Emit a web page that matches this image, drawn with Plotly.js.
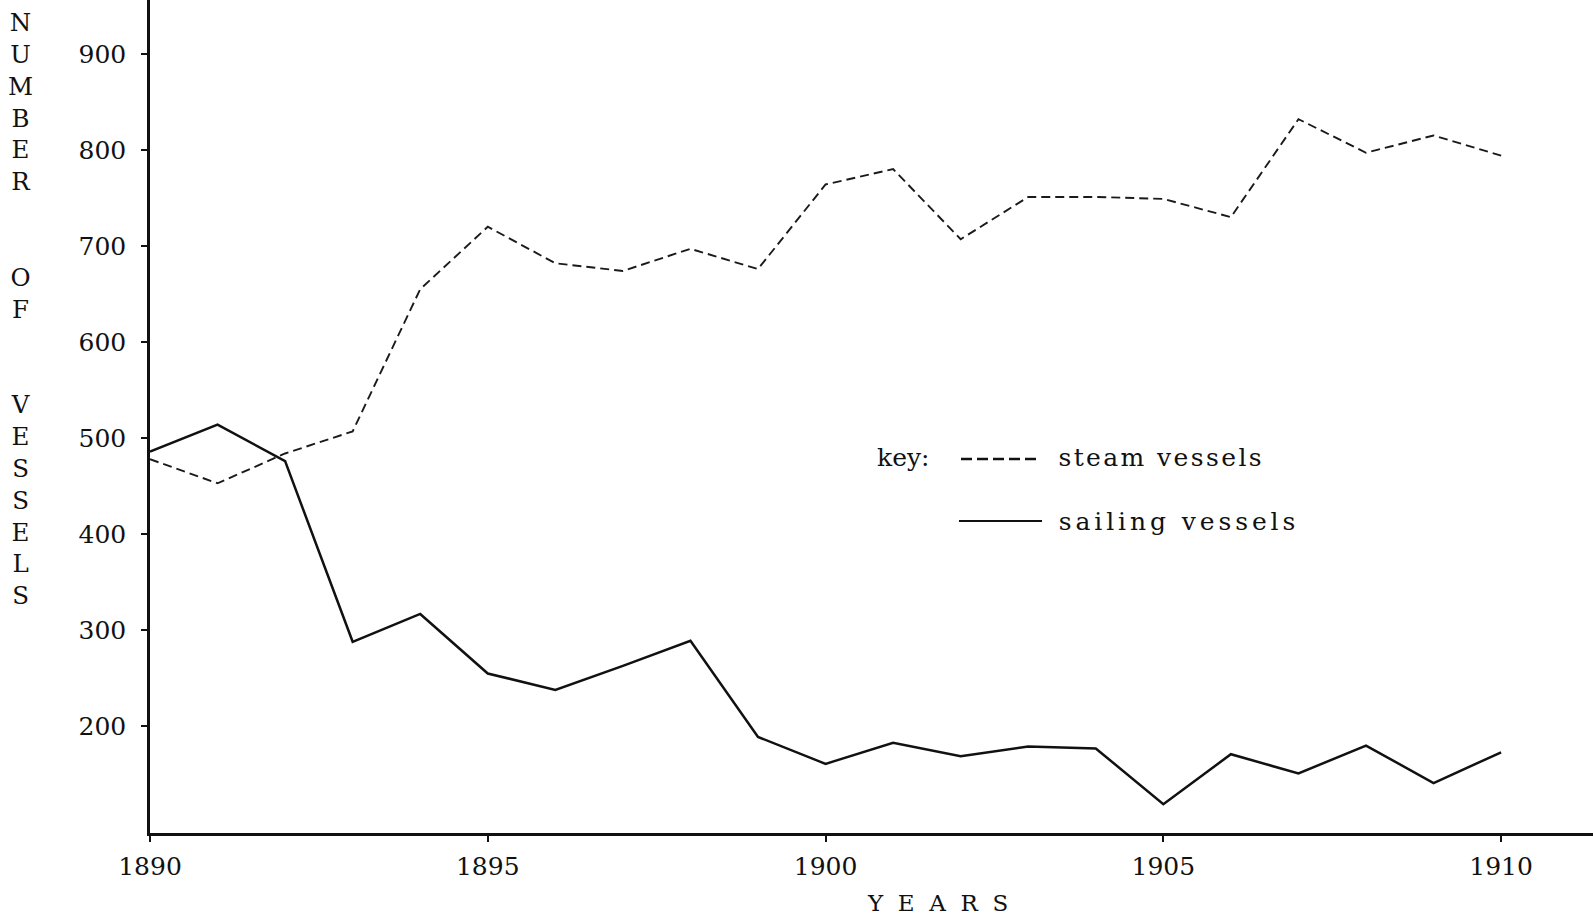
<!DOCTYPE html>
<html>
<head>
<meta charset="utf-8">
<script src="https://cdn.plot.ly/plotly-3.0.1.min.js"></script>
<style>
  html, body { margin: 0; padding: 0; background: #ffffff; }
  #chart { width: 1593px; height: 916px; }
  /* typewriter-like spacing for the key labels */
  .annotation[data-index="3"] .annotation-text { letter-spacing: 2.4px; }
  .annotation[data-index="4"] .annotation-text { letter-spacing: 3.9px; }
</style>
</head>
<body>
<div id="chart"></div>
<script>
// ---- data ----
const years = [1890, 1891, 1892, 1893, 1894, 1895, 1896, 1897, 1898, 1899, 1900,
               1901, 1902, 1903, 1904, 1905, 1906, 1907, 1908, 1909, 1910];
const steamVessels = [478, 453, 484, 507, 655, 720, 682, 674, 697, 676, 764,
                      780, 707, 751, 751, 749, 730, 832, 797, 815, 794];
const sailingVessels = [486, 514, 476, 288, 317, 255, 238, 263, 289, 189, 161,
                        183, 169, 179, 177, 119, 171, 151, 180, 141, 173];
const xTickVals = [1890, 1895, 1900, 1905, 1910];
const yTickVals = [200, 300, 400, 500, 600, 700, 800, 900];
const yTitleLetters = ["N","U","M","B","E","R"," "," ","O","F"," "," ","V","E","S","S","E","L","S"];
const xTitleLetters = ["Y","E","A","R","S"];
const seriesNames = ["steam vessels", "sailing vessels"];
const keyLabel = "key:";

const FONT = "DejaVu Serif, Liberation Serif, serif";

const traces = [
  {
    x: years, y: steamVessels, name: seriesNames[0],
    type: "scatter", mode: "lines",
    line: { color: "#1a1a1a", width: 1.9, dash: "9px,5px" },
    showlegend: false, hoverinfo: "x+y+name"
  },
  {
    x: years, y: sailingVessels, name: seriesNames[1],
    type: "scatter", mode: "lines",
    line: { color: "#111111", width: 2.5 },
    showlegend: false, hoverinfo: "x+y+name"
  }
];

// plot area: left edge x=150px, bottom at y=833px
const L = 150, B = 83, W = 1593 - L, H = 916 - B;
const px = v => (v - L) / W;          // pixel x -> paper
const py = v => (916 - B - v) / H;    // pixel y -> paper

const layout = {
  width: 1593, height: 916,
  margin: { l: L, r: 0, t: 0, b: B, pad: 0 },
  paper_bgcolor: "#ffffff", plot_bgcolor: "#ffffff",
  font: { family: FONT, color: "#111111", size: 25 },
  xaxis: {
    range: [1890, 1911.36],
    tickvals: xTickVals, ticktext: xTickVals.map(String),
    ticks: "outside", ticklen: 6, tickwidth: 1.5, tickcolor: "#111",
    showline: true, linecolor: "#111", linewidth: 3,
    showgrid: false, zeroline: false,
    ticklabelstandoff: 3,
    tickfont: { family: FONT, size: 25, color: "#111" }
  },
  yaxis: {
    range: [89, 956],
    tickvals: yTickVals, ticktext: yTickVals.map(String),
    ticks: "outside", ticklen: 6, tickwidth: 1.5, tickcolor: "#111",
    showline: true, linecolor: "#111", linewidth: 2.5,
    showgrid: false, zeroline: false,
    ticklabelstandoff: 10,
    tickfont: { family: FONT, size: 25, color: "#111" }
  },
  annotations: [
    {
      text: yTitleLetters.join("<br>"),
      xref: "paper", yref: "paper",
      x: px(20), y: py(309), xanchor: "center", yanchor: "middle",
      showarrow: false, align: "center",
      font: { family: FONT, size: 24.5, color: "#111" }
    },
    {
      text: xTitleLetters.join("\u00a0\u00a0"),
      xref: "paper", yref: "paper",
      x: px(937), y: py(918), xanchor: "center", yanchor: "bottom",
      showarrow: false,
      font: { family: FONT, size: 23, color: "#111" }
    },
    {
      text: keyLabel,
      xref: "paper", yref: "paper",
      x: px(903), y: py(457), xanchor: "center", yanchor: "middle",
      showarrow: false,
      font: { family: FONT, size: 25, color: "#111" }
    },
    {
      text: seriesNames[0],
      xref: "paper", yref: "paper",
      x: px(1161), y: py(457), xanchor: "center", yanchor: "middle",
      showarrow: false,
      font: { family: FONT, size: 25, color: "#111" }
    },
    {
      text: seriesNames[1],
      xref: "paper", yref: "paper",
      x: px(1179), y: py(521), xanchor: "center", yanchor: "middle",
      showarrow: false,
      font: { family: FONT, size: 25, color: "#111" }
    }
  ],
  shapes: [
    {
      type: "line", xref: "paper", yref: "paper",
      x0: px(961), x1: px(1039), y0: py(459), y1: py(459),
      line: { color: "#111", width: 2.4, dash: "11px,5px" }
    },
    {
      type: "line", xref: "paper", yref: "paper",
      x0: px(959), x1: px(1042), y0: py(521), y1: py(521),
      line: { color: "#111", width: 1.8 }
    }
  ]
};

Plotly.newPlot("chart", traces, layout, { displayModeBar: false, staticPlot: false });
</script>
</body>
</html>
